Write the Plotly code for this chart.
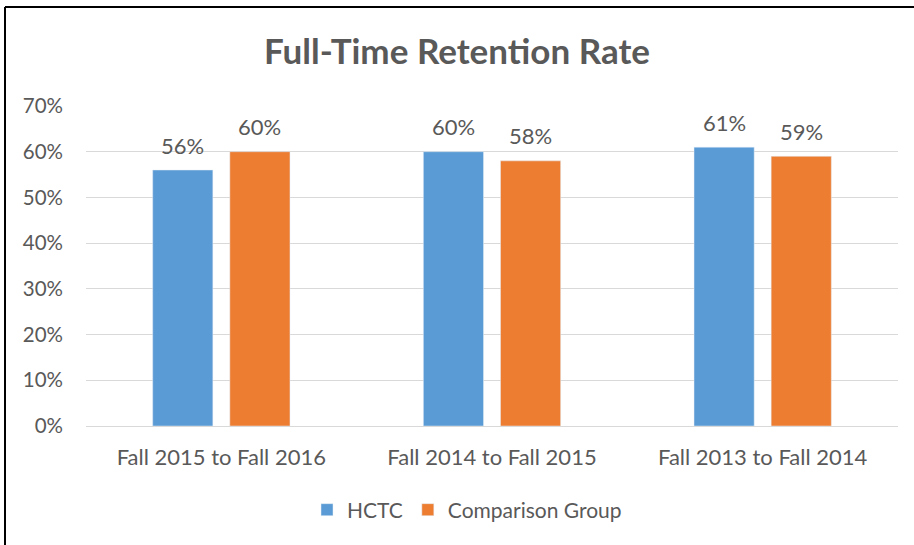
import plotly.graph_objects as go

categories = ["Fall 2015 to Fall 2016", "Fall 2014 to Fall 2015", "Fall 2013 to Fall 2014"]
hctc = [0.56, 0.60, 0.61]
comparison = [0.60, 0.58, 0.59]
y_ticks = [0, 0.1, 0.2, 0.3, 0.4, 0.5, 0.6, 0.7]
y_tick_labels = ["0%", "10%", "20%", "30%", "40%", "50%", "60%", "70%"]

FONT = "Lato, 'Open Sans', sans-serif"
GREY = "#595959"

fig = go.Figure()
fig.add_trace(go.Bar(x=categories, y=hctc, name="HCTC", marker_color="#5b9bd5"))
fig.add_trace(go.Bar(x=categories, y=comparison, name="Comparison Group",
                     marker_color="#ed7d31"))

# data labels above bars (offset to the grouped bar centres)
for vals, xs in ((hctc, -38.5), (comparison, 38.5)):
    for c, v in zip(categories, vals):
        fig.add_annotation(x=c, y=v, xref="x", yref="y", text=f"{v*100:.0f}%",
                           showarrow=False, xshift=xs, yshift=25, yanchor="middle",
                           font=dict(size=22, color=GREY, family=FONT))

W, H = 914, 545
L, R, T, B = 86, 16, 106, 119
pw, ph = W - L - R, H - T - B

fig.update_layout(
    width=W, height=H,
    margin=dict(l=L, r=R, t=T, b=B, autoexpand=False),
    paper_bgcolor="white", plot_bgcolor="white",
    barmode="group", bargap=0.43, bargroupgap=0.22,
    title=dict(text="<b>Full-Time Retention Rate</b>", x=0.5, xanchor="center",
               y=1 - 52 / H, yanchor="middle",
               font=dict(size=35, color=GREY, family=FONT)),
    font=dict(family=FONT, color=GREY),
    xaxis=dict(tickfont=dict(size=22, color=GREY), showgrid=False,
               showline=True, linecolor="#d9d9d9", linewidth=1, ticks="",
               ticklabelstandoff=12),
    yaxis=dict(range=[0, 0.7], tickvals=y_ticks, ticktext=y_tick_labels,
               tickfont=dict(size=20.5, color=GREY), showgrid=True,
               gridcolor="#d9d9d9", gridwidth=1, zeroline=False,
               showline=False, ticklabelstandoff=22),
    legend=dict(orientation="h", x=(467 - L) / pw, xanchor="center",
                y=-(510 - (T + ph)) / ph, yanchor="middle",
                font=dict(size=21, color=GREY), itemwidth=30,
                traceorder="normal"),
    showlegend=True,
    shapes=[
        dict(type="line", xref="paper", yref="paper",
             x0=(5 - L) / pw, x1=(5 - L) / pw, y0=(H - 7 - B) / ph, y1=-(B + 5) / ph,
             line=dict(color="black", width=2)),
        dict(type="line", xref="paper", yref="paper",
             x0=(5 - L) / pw, x1=(W + 5 - L) / pw, y0=(H - 7 - B) / ph, y1=(H - 7 - B) / ph,
             line=dict(color="black", width=2)),
    ],
)

fig.write_html("out.html", config={"displayModeBar": False},
               post_script="document.body.style.margin='0';")
